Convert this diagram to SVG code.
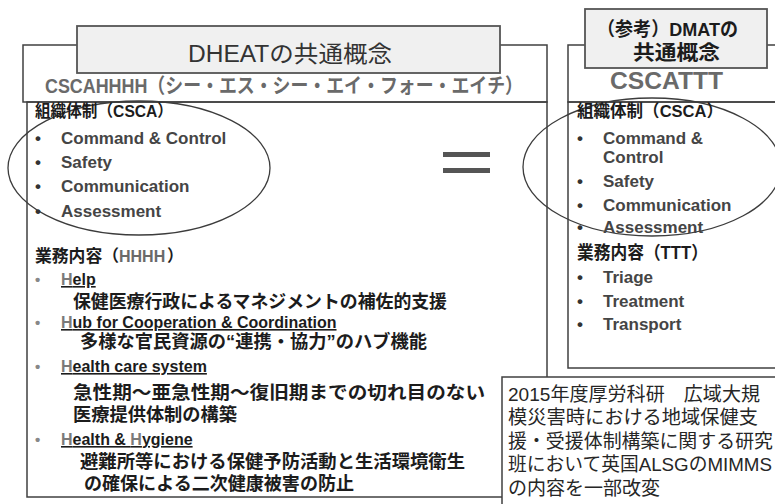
<svg xmlns="http://www.w3.org/2000/svg" width="775" height="504" viewBox="0 0 775 504">
<style>
text{font-family:"Liberation Sans","Noto Sans CJK JP",sans-serif}
.box{fill:none;stroke:#404040;stroke-width:1.5}
.hdr{fill:#f0f0f0;stroke:#555;stroke-width:1.8}
.ell{fill:none;stroke:#3c3c3c;stroke-width:1.3}
.b{font-weight:bold}
.g{fill:#6a6a6a}
.k{fill:#1c1c1c}
.it{font-size:17px;font-weight:bold;fill:#454545}
.bl{font-size:15px;font-weight:bold;fill:#888}
.bd{font-size:17px;font-weight:bold;fill:#333}
.h{font-size:16px;font-weight:bold;fill:#1c1c1c;text-decoration:underline}
.hg{fill:#7a7a7a}
.j{font-size:18px;font-weight:bold;fill:#1c1c1c}
.n{font-size:19px;fill:#262626}
</style>
<rect width="775" height="504" fill="#fff"/>

<g id="dheat">
<rect class="box" x="23" y="45" width="524" height="57"/>
<rect class="box" x="27" y="102" width="520" height="395"/>
<ellipse class="ell" cx="139" cy="168" rx="131" ry="67"/>
<rect class="hdr" x="77" y="26" width="423" height="47"/>
<text x="188" y="62" font-size="23" fill="#333" textLength="204" lengthAdjust="spacingAndGlyphs">DHEATの共通概念</text>
<text x="45" y="93" class="b g" font-size="20.5" textLength="478" lengthAdjust="spacingAndGlyphs">CSCAHHHH（シー・エス・シー・エイ・フォー・エイチ）</text>
<text x="35" y="117" class="b k" font-size="16.5" textLength="138" lengthAdjust="spacingAndGlyphs">組織体制（CSCA）</text>
<text x="35" y="144" class="bd">•</text><text x="61" y="144" class="it">Command &amp; Control</text>
<text x="35" y="168" class="bd">•</text><text x="61" y="168" class="it">Safety</text>
<text x="35" y="192" class="bd">•</text><text x="61" y="192" class="it">Communication</text>
<text x="35" y="217" class="bd">•</text><text x="61" y="217" class="it">Assessment</text>
<text x="35" y="262" class="b k" font-size="16.5" textLength="84" lengthAdjust="spacingAndGlyphs">業務内容（</text>
<text x="119" y="262" class="b g" font-size="16">HHHH</text>
<text x="167" y="262" class="b k" font-size="16.5">）</text>
<text x="35" y="285" class="bl">•</text><text x="61" y="285" class="h"><tspan class="hg">H</tspan>elp</text>
<text x="73" y="308" class="j" textLength="374" lengthAdjust="spacingAndGlyphs">保健医療行政によるマネジメントの補佐的支援</text>
<text x="35" y="328" class="bl">•</text><text x="61" y="328" class="h"><tspan class="hg">H</tspan>ub for Cooperation &amp; Coordination</text>
<text x="80" y="348" class="j" textLength="347" lengthAdjust="spacingAndGlyphs">多様な官民資源の“連携・協力”のハブ機能</text>
<text x="35" y="372" class="bl">•</text><text x="61" y="372" class="h"><tspan class="hg">H</tspan>ealth care system</text>
<text x="73" y="399" class="j" textLength="412" lengthAdjust="spacingAndGlyphs">急性期～亜急性期～復旧期までの切れ目のない</text>
<text x="73" y="421" class="j" textLength="164" lengthAdjust="spacingAndGlyphs">医療提供体制の構築</text>
<text x="35" y="445" class="bl">•</text><text x="61" y="445" class="h"><tspan class="hg">H</tspan>ealth &amp; <tspan class="hg">H</tspan>ygiene</text>
<text x="80" y="468" class="j" textLength="385" lengthAdjust="spacingAndGlyphs">避難所等における保健予防活動と生活環境衛生</text>
<text x="84" y="490" class="j" textLength="270" lengthAdjust="spacingAndGlyphs">の確保による二次健康被害の防止</text>
</g>

<g id="equals">
<rect x="443" y="152" width="47" height="5" fill="#555"/>
<rect x="443" y="168" width="47" height="5" fill="#555"/>
</g>

<g id="dmat">
<rect class="box" x="568" y="45" width="220" height="57"/>
<rect class="box" x="568" y="102" width="220" height="266"/>
<ellipse class="ell" cx="652" cy="167" rx="129" ry="69"/>
<rect class="hdr" x="585" y="9" width="182" height="59"/>
<text x="597" y="36" class="b k" font-size="19" textLength="141" lengthAdjust="spacingAndGlyphs">（参考）DMATの</text>
<text x="633" y="60" class="b k" font-size="20" textLength="87" lengthAdjust="spacingAndGlyphs">共通概念</text>
<text x="610" y="89" class="b g" font-size="23" textLength="113" lengthAdjust="spacingAndGlyphs">CSCATTT</text>
<text x="577" y="117" class="b k" font-size="17" textLength="146" lengthAdjust="spacingAndGlyphs">組織体制（CSCA）</text>
<text x="577" y="144" class="bd">•</text><text x="603" y="144" class="it">Command &amp;</text>
<text x="603" y="163" class="it">Control</text>
<text x="577" y="187" class="bd">•</text><text x="603" y="187" class="it">Safety</text>
<text x="577" y="211" class="bd">•</text><text x="603" y="211" class="it">Communication</text>
<text x="577" y="233" class="bd">•</text><text x="603" y="233" class="it">Assessment</text>
<text x="577" y="259" class="b k" font-size="18" textLength="131" lengthAdjust="spacingAndGlyphs">業務内容（TTT）</text>
<text x="577" y="283" class="bd">•</text><text x="603" y="283" class="it k">Triage</text>
<text x="577" y="307" class="bd">•</text><text x="603" y="307" class="it k">Treatment</text>
<text x="577" y="330" class="bd">•</text><text x="603" y="330" class="it k">Transport</text>
</g>

<g id="note">
<rect x="502" y="377" width="290" height="140" fill="#fff" stroke="#404040" stroke-width="1.5"/>
<text x="508" y="401" class="n" textLength="252" lengthAdjust="spacingAndGlyphs">2015年度厚労科研　広域大規</text>
<text x="508" y="424" class="n" textLength="250" lengthAdjust="spacingAndGlyphs">模災害時における地域保健支</text>
<text x="508" y="448" class="n" textLength="265" lengthAdjust="spacingAndGlyphs">援・受援体制構築に関する研究</text>
<text x="508" y="471" class="n" textLength="264" lengthAdjust="spacingAndGlyphs">班において英国ALSGのMIMMS</text>
<text x="508" y="495" class="n">の内容を一部改変</text>
</g>
<g id="connectors"/>
</svg>
